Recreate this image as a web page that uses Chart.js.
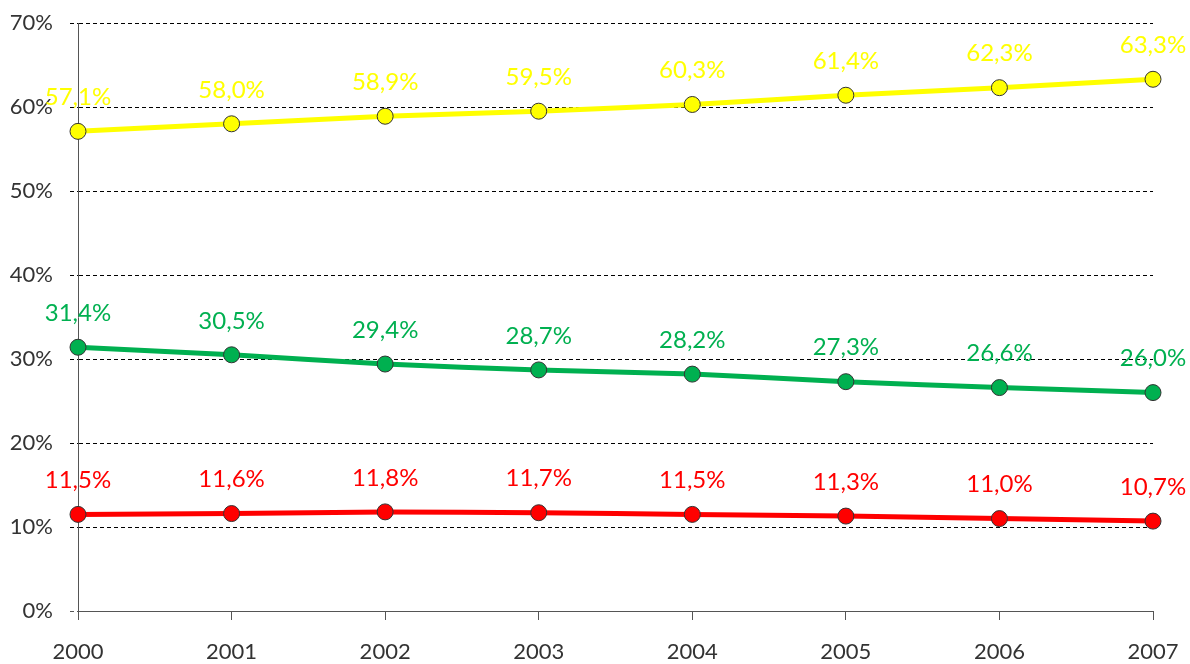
<!DOCTYPE html>
<html>
<head>
<meta charset="utf-8">
<script src="https://cdn.jsdelivr.net/npm/chart.js@4"></script>
<style>
  html, body { margin: 0; padding: 0; background: #fff; }
  #wrap { width: 1190px; height: 664px; }
</style>
</head>
<body>
<div id="wrap"><canvas id="chart" width="1190" height="664"></canvas></div>
<script>
const years = ["2000", "2001", "2002", "2003", "2004", "2005", "2006", "2007"];
const yellowValues = [57.1, 58.0, 58.9, 59.5, 60.3, 61.4, 62.3, 63.3];
const greenValues = [31.4, 30.5, 29.4, 28.7, 28.2, 27.3, 26.6, 26.0];
const redValues = [11.5, 11.6, 11.8, 11.7, 11.5, 11.3, 11.0, 10.7];
const yTicks = [0, 10, 20, 30, 40, 50, 60, 70];

const FONT = "Lato, 'Open Sans', sans-serif";

// podpisy wartości nad punktami
const valueLabels = {
    id: "valueLabels",
    afterDatasetsDraw(chart) {
        const ctx = chart.ctx;
        ctx.save();
        ctx.font = "24px " + FONT;
        ctx.textAlign = "center";
        ctx.textBaseline = "middle";
        chart.data.datasets.forEach((ds, i) => {
            const meta = chart.getDatasetMeta(i);
            meta.data.forEach((pt, j) => {
                ctx.fillStyle = ds.labelColor;
                const txt = ds.data[j].toFixed(1).replace(".", ",") + "%";
                ctx.fillText(txt, pt.x, pt.y - 34);
            });
        });
        ctx.restore();
    }
};

function series(values, color) {
    return {
        data: values,
        borderColor: color,
        backgroundColor: color,
        labelColor: color,
        borderWidth: 5,
        tension: 0.2,
        pointRadius: 8,
        pointBorderColor: "#333",
        pointBorderWidth: 1,
        pointBackgroundColor: color
    };
}

new Chart(document.getElementById("chart").getContext("2d"), {
    type: "line",
    data: {
        labels: years,
        datasets: [
            series(yellowValues, "#FFFF00"),
            series(greenValues, "#00B050"),
            series(redValues, "#FF0000")
        ]
    },
    options: {
        responsive: false,
        animation: false,
        layout: { padding: { top: 23, right: 37, left: 0, bottom: 0 } },
        plugins: {
            legend: { display: false },
            tooltip: { enabled: false }
        },
        scales: {
            x: {
                offset: false,
                afterFit: (s) => {
                    s.height = 53;
                    s.paddingLeft = 0;
                    s.paddingRight = 0;
                },
                border: { color: "#555", width: 1 },
                grid: {
                    drawOnChartArea: false,
                    drawTicks: true,
                    tickLength: 9,
                    color: "#555"
                },
                ticks: {
                    color: "#333",
                    font: { family: FONT, size: 22 },
                    padding: 19,
                    maxRotation: 0
                }
            },
            y: {
                min: 0,
                max: 70,
                afterFit: (s) => {
                    s.width = 78;
                    s.paddingTop = 0;
                    s.paddingBottom = 0;
                },
                afterBuildTicks: (s) => { s.ticks = yTicks.map(v => ({ value: v })); },
                border: { color: "#555", width: 1, dash: [4, 3] },
                grid: {
                    color: (c) => c.tick && c.tick.value === 0 ? "#555" : "#000",
                    tickLength: 8,
                    tickBorderDash: [4, 3]
                },
                ticks: {
                    color: "#333",
                    font: { family: FONT, size: 22 },
                    padding: 17,
                    callback: (v) => v + "%"
                }
            }
        }
    },
    plugins: [valueLabels]
});
</script>
</body>
</html>
